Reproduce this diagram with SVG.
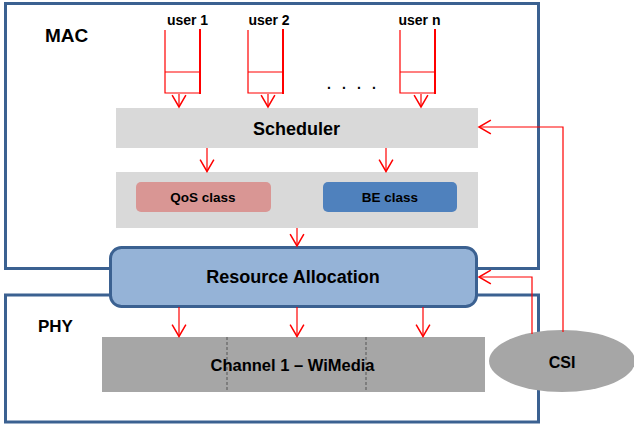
<svg xmlns="http://www.w3.org/2000/svg" width="634" height="430" viewBox="0 0 634 430">
<style>
.frame{fill:none;stroke:#3b6191;stroke-width:3}
.red{fill:none;stroke:#ff0000;stroke-width:1.2}
.redb{fill:none;stroke:#ff0000;stroke-width:2}
.arr{fill:none;stroke:#ff0000;stroke-width:1.2;marker-end:url(#ah)}
.t{font-family:"Liberation Sans",Arial,sans-serif;font-weight:bold;fill:#000}
.c{text-anchor:middle}
</style>
<defs>
<marker id="ah" markerUnits="userSpaceOnUse" orient="auto" markerWidth="20" markerHeight="20" refX="0" refY="0" viewBox="-12 -8 14 16" overflow="visible">
<path d="M-9.5,-5.5 L0,0 L-9.5,5.5" fill="none" stroke="#ff0000" stroke-width="1.2"/>
</marker>
</defs>
<g id="mac"><rect class="frame" x="5.5" y="3.5" width="533" height="265"/>
<text class="t" x="45" y="42" font-size="19">MAC</text></g>
<g id="phy"><rect class="frame" x="5.5" y="295" width="533" height="127"/>
<text class="t" x="38" y="332" font-size="17">PHY</text></g>
<g id="user1"><text class="t c" x="187.5" y="25" font-size="14">user 1</text>
<path class="red" d="M165,30 V93 H200 M165,72 H200"/><path class="redb" d="M200,29 V94"/></g>
<g id="user2"><text class="t c" x="269" y="25" font-size="14">user 2</text>
<path class="red" d="M248,30 V93 H283 M248,72 H283"/><path class="redb" d="M283,29 V94"/></g>
<g id="usern"><text class="t c" x="419.5" y="25" font-size="14">user n</text>
<path class="red" d="M400,30 V93 H435 M400,72 H435"/><path class="redb" d="M435,29 V94"/></g>
<text class="t" x="327" y="89" font-size="14" letter-spacing="3.6">. . . .</text>
<g id="scheduler"><rect x="116" y="108" width="362" height="40" fill="#d9d9d9"/>
<text class="t c" x="296.5" y="135" font-size="18">Scheduler</text></g>
<g id="classes"><rect x="116" y="172" width="362" height="56" fill="#d9d9d9"/></g>
<g id="qos"><rect x="136" y="182" width="135" height="30" rx="5" fill="#d99694"/>
<text class="t c" x="203" y="202" font-size="13.5">QoS class</text></g>
<g id="be"><rect x="323" y="182" width="134" height="30" rx="5" fill="#4f81bd"/>
<text class="t c" x="390" y="202" font-size="13.5">BE class</text></g>
<g id="ra"><rect x="110.5" y="247.5" width="366" height="59" rx="11" fill="#95b3d7" stroke="#3b6191" stroke-width="3"/>
<text class="t c" x="293" y="283" font-size="18">Resource Allocation</text></g>
<g id="channel"><rect x="102" y="337" width="383" height="55" fill="#a6a6a6"/>
<path d="M227,337 V392 M366,337 V392" stroke="#555" stroke-width="1" stroke-dasharray="3,2" fill="none"/>
<text class="t c" x="292.5" y="371" font-size="16.5">Channel 1 – WiMedia</text></g>
<g id="csi"><ellipse cx="562" cy="361" rx="73" ry="31" fill="#a6a6a6"/>
<text class="t c" x="562" y="368" font-size="16">CSI</text></g>
<g id="connectors">
<path class="arr" d="M179,94 V107"/>
<path class="arr" d="M268,94 V107"/>
<path class="arr" d="M421,94 V107"/>
<path class="arr" d="M207,148 V171.5"/>
<path class="arr" d="M386,148 V171.5"/>
<path class="arr" d="M297,228 V246"/>
<path class="arr" d="M179,307 V336.5"/>
<path class="arr" d="M297,307 V336.5"/>
<path class="arr" d="M423,307 V336.5"/>
<path class="arr" d="M563,332 V127 H479"/>
<path class="arr" d="M532,334 V277 H479"/>
</g>
</svg>
